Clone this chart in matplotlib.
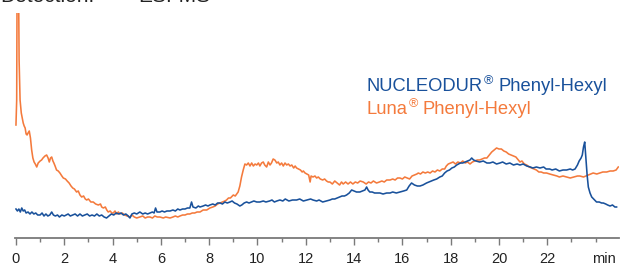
import matplotlib
matplotlib.use("Agg")
import matplotlib.pyplot as plt

plt.rcParams['font.family'] = ['Liberation Sans', 'DejaVu Sans']

# Luna Phenyl-Hexyl (orange) : time [min], signal [a.u.]
luna_t = [0.00, 0.03, 0.05, 0.10, 0.13, 0.17, 0.22, 0.26, 0.30, 0.34, 0.38, 0.42, 0.46, 0.50, 0.55,
          0.60, 0.65, 0.70, 0.75, 0.80, 0.86, 0.92, 1.00, 1.06, 1.12, 1.20, 1.27, 1.33, 1.38, 1.43,
          1.48, 1.53, 1.57, 1.62, 1.68, 1.75, 1.82, 1.90, 1.96, 2.05, 2.12, 2.20, 2.28, 2.35, 2.42,
          2.51, 2.58, 2.65, 2.72, 2.80, 2.87, 2.93, 3.00, 3.10, 3.20, 3.30, 3.41, 3.50, 3.55, 3.62,
          3.70, 3.76, 3.82, 3.90, 3.97, 4.03, 4.10, 4.17, 4.24, 4.30, 4.40, 4.50, 4.60, 4.72, 4.80,
          4.90, 5.00, 5.13, 5.25, 5.35, 5.45, 5.55, 5.65, 5.75, 5.85, 5.96, 6.10, 6.20, 6.38, 6.50,
          6.60, 6.70, 6.79, 6.90, 7.00, 7.10, 7.20, 7.30, 7.40, 7.50, 7.62, 7.75, 7.90, 8.03, 8.15,
          8.25, 8.35, 8.45, 8.55, 8.65, 8.72, 8.80, 8.88, 9.00, 9.08, 9.14, 9.20, 9.27, 9.34, 9.41,
          9.48, 9.55, 9.62, 9.69, 9.76, 9.83, 9.90, 9.97, 10.04, 10.10, 10.17, 10.24, 10.30, 10.38, 10.45,
          10.52, 10.58, 10.65, 10.72, 10.80, 10.86, 10.93, 11.00, 11.07, 11.14, 11.21, 11.28, 11.35, 11.42, 11.50,
          11.56, 11.62, 11.70, 11.78, 11.85, 11.90, 11.97, 12.05, 12.12, 12.18, 12.22, 12.30, 12.38, 12.45, 12.52,
          12.60, 12.70, 12.78, 12.86, 12.93, 13.00, 13.10, 13.20, 13.30, 13.40, 13.48, 13.55, 13.65, 13.75, 13.85,
          13.95, 14.05, 14.15, 14.25, 14.38, 14.50, 14.60, 14.70, 14.80, 14.93, 15.05, 15.15, 15.25, 15.35, 15.49,
          15.60, 15.70, 15.80, 15.90, 16.00, 16.10, 16.20, 16.30, 16.40, 16.50, 16.60, 16.66, 16.75, 16.85, 16.95,
          17.05, 17.15, 17.25, 17.35, 17.45, 17.55, 17.65, 17.75, 17.82, 17.90, 18.00, 18.10, 18.20, 18.30, 18.40,
          18.50, 18.60, 18.70, 18.80, 18.90, 19.00, 19.10, 19.20, 19.30, 19.40, 19.50, 19.60, 19.70, 19.80, 19.90,
          20.00, 20.10, 20.20, 20.30, 20.40, 20.50, 20.60, 20.70, 20.80, 20.87, 20.95, 21.05, 21.15, 21.25, 21.35,
          21.45, 21.55, 21.65, 21.75, 21.85, 21.97, 22.10, 22.25, 22.40, 22.50, 22.65, 22.80, 22.95, 23.10, 23.25,
          23.35, 23.50, 23.60, 23.70, 23.80, 23.90, 24.05, 24.18, 24.30, 24.46, 24.60, 24.73, 24.85, 24.94]
luna_y = [113, 138, 280, 280, 178, 138, 125, 120, 115, 112, 110, 104, 103, 105, 107,
          100, 88, 80, 76, 74, 71, 75, 77, 78, 80, 82, 83, 80, 76, 80,
          81, 77, 75, 72, 68, 67, 65, 62, 60, 59, 57, 55, 52, 50, 49,
          46, 47, 43, 41, 42, 39, 38, 39, 36, 36, 34, 33, 34, 31, 30,
          31, 28, 26, 27, 25, 25, 27, 24, 26, 24, 25, 23, 22, 21, 23,
          21, 20, 21, 22, 20, 21, 21, 20, 22, 21, 21, 20, 21, 20, 21,
          22, 21, 22, 23, 23, 24, 24, 25, 25, 26, 26, 28, 28, 30, 31,
          32, 34, 35, 36, 37, 38, 40, 40, 43, 42, 44, 46, 52, 61, 68,
          74, 73, 75, 72, 75, 72, 74, 73, 75, 72, 75, 76, 73, 71, 76,
          73, 75, 79, 78, 75, 76, 73, 75, 72, 75, 73, 74, 72, 73, 70,
          72, 70, 69, 68, 66, 67, 65, 64, 63, 56, 62, 61, 62, 60, 61,
          59, 58, 59, 57, 56, 56, 54, 57, 55, 53, 56, 54, 56, 54, 56,
          54, 56, 55, 57, 56, 54, 56, 55, 57, 55, 56, 57, 56, 58, 58,
          59, 58, 60, 60, 59, 61, 60, 59, 62, 63, 64, 65, 64, 66, 65,
          66, 65, 67, 66, 68, 67, 69, 69, 72, 74, 75, 76, 74, 76, 75,
          77, 75, 76, 74, 76, 77, 78, 78, 79, 80, 80, 83, 86, 88, 90,
          89, 89, 87, 86, 84, 83, 82, 81, 78, 76, 77, 74, 73, 71, 70,
          69, 68, 66, 66, 65, 65, 64, 63, 62, 61, 62, 61, 60, 61, 62,
          62, 61, 62, 63, 64, 65, 64, 65, 66, 66, 67, 67, 68, 71]

# NUCLEODUR Phenyl-Hexyl (blue) : time [min], signal [a.u.]
nuc_t = [0.00, 0.06, 0.12, 0.18, 0.24, 0.30, 0.36, 0.42, 0.50, 0.58, 0.66, 0.74, 0.82, 0.90, 1.00,
         1.08, 1.16, 1.24, 1.32, 1.40, 1.48, 1.55, 1.63, 1.72, 1.80, 1.90, 2.00, 2.08, 2.16, 2.25,
         2.35, 2.45, 2.55, 2.65, 2.75, 2.85, 2.95, 3.05, 3.15, 3.25, 3.35, 3.45, 3.55, 3.65, 3.75,
         3.85, 3.95, 4.05, 4.15, 4.25, 4.35, 4.45, 4.55, 4.65, 4.72, 4.80, 4.90, 5.00, 5.13, 5.25,
         5.35, 5.45, 5.55, 5.65, 5.72, 5.78, 5.84, 5.96, 6.05, 6.15, 6.25, 6.38, 6.50, 6.60, 6.70,
         6.79, 6.90, 7.00, 7.10, 7.20, 7.27, 7.33, 7.45, 7.55, 7.62, 7.75, 7.85, 7.95, 8.03, 8.15,
         8.25, 8.35, 8.45, 8.55, 8.65, 8.75, 8.86, 8.95, 9.05, 9.15, 9.27, 9.35, 9.45, 9.55, 9.65,
         9.75, 9.85, 9.97, 10.10, 10.24, 10.35, 10.50, 10.60, 10.70, 10.80, 10.93, 11.05, 11.15, 11.30, 11.45,
         11.62, 11.75, 11.90, 12.05, 12.20, 12.30, 12.45, 12.55, 12.70, 12.85, 13.00, 13.10, 13.20, 13.30, 13.41,
         13.50, 13.60, 13.69, 13.80, 13.90, 14.00, 14.10, 14.24, 14.35, 14.45, 14.52, 14.58, 14.65, 14.75, 14.85,
         14.95, 15.07, 15.20, 15.35, 15.49, 15.60, 15.75, 15.90, 16.05, 16.18, 16.28, 16.38, 16.50, 16.62, 16.73,
         16.85, 17.00, 17.10, 17.20, 17.30, 17.42, 17.55, 17.65, 17.75, 17.85, 17.95, 18.05, 18.15, 18.25, 18.40,
         18.50, 18.60, 18.70, 18.80, 18.87, 18.95, 19.05, 19.20, 19.35, 19.50, 19.62, 19.75, 19.90, 20.04, 20.15,
         20.30, 20.45, 20.60, 20.75, 20.87, 21.00, 21.15, 21.30, 21.40, 21.55, 21.70, 21.85, 21.95, 22.10, 22.20,
         22.35, 22.50, 22.65, 22.80, 22.95, 23.05, 23.15, 23.25, 23.32, 23.40, 23.45, 23.50, 23.55, 23.60, 23.65,
         23.70, 23.77, 23.84, 23.92, 24.04, 24.15, 24.25, 24.32, 24.42, 24.50, 24.60, 24.70, 24.80, 24.87]
nuc_y = [29, 27, 29, 26, 30, 27, 28, 25, 26, 24, 26, 24, 25, 23, 23,
         25, 22, 24, 22, 23, 26, 23, 22, 23, 21, 23, 22, 23, 24, 22,
         23, 24, 22, 24, 22, 23, 24, 22, 23, 22, 24, 22, 23, 21, 20,
         22, 24, 23, 25, 24, 25, 23, 24, 22, 20, 24, 25, 24, 26, 24,
         25, 24, 25, 26, 25, 30, 26, 26, 27, 26, 27, 27, 28, 27, 29,
         28, 29, 29, 30, 30, 36, 31, 30, 32, 31, 32, 33, 32, 33, 34,
         33, 35, 35, 34, 36, 35, 36, 37, 35, 34, 32, 33, 35, 36, 35,
         36, 37, 36, 36, 37, 36, 37, 38, 36, 37, 38, 37, 39, 37, 38,
         38, 39, 37, 38, 39, 38, 37, 38, 36, 37, 38, 39, 39, 40, 41,
         42, 42, 43, 45, 48, 47, 46, 46, 47, 48, 51, 48, 46, 46, 45,
         45, 45, 44, 45, 45, 46, 45, 46, 47, 48, 52, 55, 53, 52, 52,
         53, 55, 56, 57, 58, 59, 61, 62, 65, 67, 68, 70, 71, 73, 75,
         75, 76, 77, 78, 80, 78, 77, 76, 77, 75, 75, 76, 74, 75, 76,
         74, 75, 73, 74, 73, 74, 72, 71, 70, 71, 70, 71, 69, 69, 68,
         69, 67, 68, 68, 69, 68, 69, 73, 77, 80, 83, 91, 96, 80, 63,
         51, 45, 41, 39, 36, 36, 35, 35, 34, 33, 32, 33, 31, 31]

tick_major = [0, 2, 4, 6, 8, 10, 12, 14, 16, 18, 20, 22]
tick_minor = [1, 3, 5, 7, 9, 11, 13, 15, 17, 19, 21, 23, 24]
legend_labels = ["NUCLEODUR", "Luna"]
legend_suffix = "Phenyl-Hexyl"
header = ["Detection:", "ESI-MS"]

BLUE = "#19519b"
ORANGE = "#f47a3c"
GREY = "#7a7a7a"
TXT = "#222222"

W, H = 631, 266
fig = plt.figure(figsize=(W / 100, H / 100), dpi=100)
ax = fig.add_axes([15 / W, (H - 238) / H, 604 / W, 225 / H])

ax.plot(luna_t, luna_y, color=ORANGE, lw=1.15, solid_joinstyle='round', zorder=2)
ax.plot(nuc_t, nuc_y, color=BLUE, lw=1.15, solid_joinstyle='round', zorder=3)

ax.set_xlim(-0.04, 24.97)
ax.set_ylim(0, 225)
for s in ['left', 'right', 'top']:
    ax.spines[s].set_visible(False)
ax.spines['bottom'].set_color(GREY)
ax.spines['bottom'].set_linewidth(1.3)
ax.set_yticks([])
ax.set_xticks(tick_major)
ax.set_xticklabels([str(v) for v in tick_major])
ax.set_xticks(tick_minor, minor=True)
ax.tick_params(axis='x', which='major', direction='out', length=5, width=1.0,
               color=GREY, labelsize=10.5, labelcolor=TXT, pad=5)
ax.tick_params(axis='x', which='minor', direction='out', length=3, width=1.0, color=GREY)
ax.annotate("min", xy=(24.35, 0), xycoords=('data', 'axes fraction'),
            xytext=(0, -10), textcoords='offset points', ha='center', va='top',
            fontsize=10.5, color=TXT)

# legend text, with superscript registered-trademark sign
FS = 13.2
baselines = [91, 113.5]
colors = [BLUE, ORANGE]
texts = []
for name, yb, c in zip(legend_labels, baselines, colors):
    texts.append(fig.text(367 / W, 1 - yb / H, name, color=c, fontsize=FS, va='baseline'))
fig.canvas.draw()
renderer = fig.canvas.get_renderer()
for t, yb, c in zip(texts, baselines, colors):
    bb = t.get_window_extent(renderer)
    r = fig.text((bb.x1 + 0.5) / W, 1 - (yb - 6.5) / H, "®", color=c, fontsize=9, va='baseline')
    fig.canvas.draw()
    rb = r.get_window_extent(renderer)
    fig.text((rb.x1 + 5) / W, 1 - yb / H, legend_suffix, color=c, fontsize=FS, va='baseline')

# header line, cropped at the top edge as in the original
fig.text(0 / W, 1 - 2.5 / H, header[0], fontsize=15, color=TXT, va='baseline')
fig.text(138 / W, 1 - 2.5 / H, header[1], fontsize=15, color=TXT, va='baseline')

fig.savefig("out.png", dpi=100)
